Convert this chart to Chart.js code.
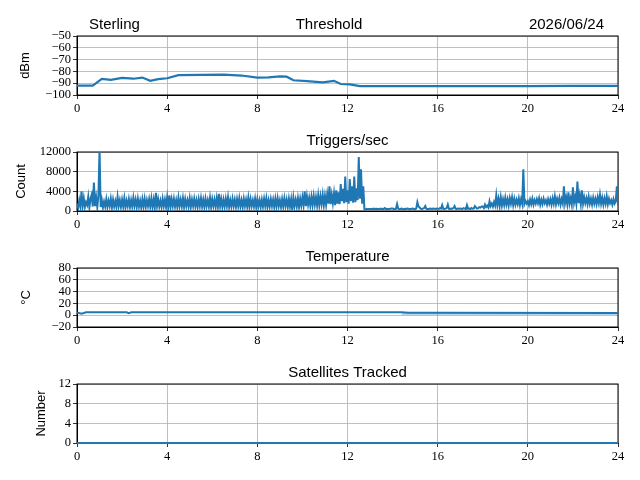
<!DOCTYPE html>
<html>
<head>
<meta charset="utf-8">
<script src="https://cdn.jsdelivr.net/npm/chart.js@4.4.0/dist/chart.umd.min.js"></script>
<style>
  body { margin: 0; background: #fff; width: 640px; height: 480px; position: relative; overflow: hidden; }
  .panel { position: absolute; left: 0; width: 640px; height: 120px; }
</style>
</head>
<body>
<div class="panel" style="top:0px"><canvas id="threshold"></canvas></div>
<div class="panel" style="top:116px"><canvas id="triggers"></canvas></div>
<div class="panel" style="top:232px"><canvas id="temperature"></canvas></div>
<div class="panel" style="top:348px"><canvas id="satellites"></canvas></div>
<script>
// hours of day for the x axis
var hourTicks = [0, 4, 8, 12, 16, 20, 24];

// threshold (dBm)
var thresholdHours = [0, 0.7, 1.1, 1.5, 2.0, 2.5, 2.9, 3.25, 3.6, 4.0, 4.5, 5.5, 6.5, 7.3, 8.0, 8.5, 9.0, 9.3, 9.6, 10.2, 10.9, 11.4, 11.7, 12.1, 12.55, 14, 16, 18, 20, 22, 24];
var thresholdValues = [-92, -92, -86.4, -87.2, -85.5, -86.2, -85.2, -88, -86.5, -85.8, -83.2, -83, -82.8, -83.5, -85.3, -85, -84.3, -84.5, -87.5, -88.3, -89.3, -88, -90.7, -91, -92.4, -92.5, -92.5, -92.5, -92.4, -92.3, -92.3];

// triggers per second, one value every 0.05 h (0.00 .. 24.00), one row per hour
var triggerValues = [
  1500,700,2200,900,4000,1000,2600,800,1800,1200,2900,700,2500,3300,900,5800,1000,2800,800,3100,
  12500,800,2200,700,1900,900,2400,800,2100,1000,2500,700,2300,900,2000,800,2900,1000,2200,800,
  2300,900,2600,700,2100,1000,2400,800,2200,900,2700,1000,2300,800,2500,900,2100,700,2400,900,
  2500,800,2200,1000,2400,900,2600,800,2300,700,3700,1000,2400,900,2100,800,2500,1000,2300,800,
  2800,900,3200,800,2400,1000,2500,900,2200,800,2700,1000,2300,900,2600,800,2400,1000,2200,900,
  2600,800,2300,1000,2500,900,2200,800,2400,1000,2600,900,2300,800,2500,1000,2200,900,2700,800,
  2400,1000,2300,800,2600,900,3500,1000,2400,800,2300,900,2500,1000,2800,800,2200,900,2500,1000,
  2300,800,2400,1000,2600,900,2200,800,2500,1000,2300,900,2700,800,2400,1000,2200,900,2500,800,
  2400,1000,2200,800,2300,900,2500,1000,2600,800,2200,900,2400,1000,2300,800,2500,900,2600,1000,
  2200,800,2400,900,2600,1000,2300,800,2500,900,2400,200,2700,1000,2300,900,2600,800,2500,1100,
  2800,1200,4000,1000,3000,1300,2700,1100,2900,1200,3100,1300,2800,1100,3200,1200,3000,1400,3300,1200,
  3100,1300,3400,1500,5000,1400,3300,1600,3600,1200,4200,1500,3800,1400,5500,2000,4500,1600,7000,1800,
  4200,1500,6500,2000,5000,1700,7000,1800,4600,2200,11000,2500,8500,1500,5000,400,300,450,350,400,
  400,350,450,400,500,350,450,400,350,500,400,450,350,600,400,450,350,400,450,500,
  500,400,350,450,1400,450,350,400,500,400,350,450,400,500,450,350,400,450,500,400,
  400,500,1800,900,700,450,400,500,600,1000,450,400,350,500,450,400,500,450,400,500,
  450,400,600,500,1200,450,400,500,600,1300,450,400,500,450,600,1000,450,400,500,450,
  500,450,400,600,500,400,1200,450,500,400,600,450,500,1000,700,500,600,800,700,900,
  900,600,1300,800,1100,700,2000,1000,1500,900,1800,1100,3200,1200,2500,1000,2800,1100,2400,1200,
  2700,1300,2400,1100,2600,1500,2800,1200,2500,1300,2300,1400,2600,1200,2400,1500,8500,1400,2000,1500,
  2000,1200,2300,1400,2500,1300,2200,1500,2400,1600,2600,1300,2300,1400,2500,1600,2200,1300,2400,1500,
  2400,1300,2600,1500,3000,1400,2500,1600,2700,1300,2400,1500,5000,1600,2800,1400,3800,1500,2600,1300,
  4800,1700,2900,1500,6000,1600,3200,1400,4200,1500,2800,1600,2600,1400,2900,1500,2500,1300,2700,1500,
  2500,1400,2800,1600,3300,1500,2700,1300,2600,1500,3000,1400,2500,1600,2200,1300,2400,1500,2000,5000,
  1200
];

// temperature (deg C)
var tempHours = [0, 0.2, 0.4, 2.2, 2.3, 2.4, 14.4, 14.7, 15, 16, 24];
var tempValues = [4.8, 2.5, 4.8, 4.8, 3.5, 4.8, 4.8, 4.2, 4, 4, 3.8];
var tempLowHours = [14.4, 24];
var tempLowValues = [2, 2];

// satellites tracked
var satHours = [0, 24];
var satValues = [0, 0];

function pairs(xs, ys) {
  return ys.map(function (y, i) { return { x: xs[i], y: y }; });
}
var triggerHours = triggerValues.map(function (v, i) { return i / 20; });

var blue = "#1f77b4";
var tickFont = { family: "'Liberation Serif', serif", size: 12.5 };

// frame under the data, titles and y label on top
var panelText = {
  id: "panelText",
  beforeDatasetsDraw: function (chart) {
    var ctx = chart.ctx, a = chart.chartArea;
    ctx.save();
    ctx.strokeStyle = "#000";
    ctx.lineWidth = 1;
    ctx.strokeRect(a.left, a.top, a.right - a.left, a.bottom - a.top);
    ctx.restore();
  },
  afterDraw: function (chart, args, o) {
    var ctx = chart.ctx, a = chart.chartArea;
    ctx.save();
    ctx.fillStyle = "#000";
    ctx.font = "15px 'Liberation Sans', sans-serif";
    ctx.textBaseline = "alphabetic";
    var ty = a.top - 7;
    if (o.left) { ctx.textAlign = "left"; ctx.fillText(o.left, 89, ty); }
    if (o.right) { ctx.textAlign = "right"; ctx.fillText(o.right, 604, ty); }
    ctx.textAlign = "center";
    ctx.fillText(o.title, o.titleX || (a.left + a.right) / 2, ty);
    ctx.translate(o.yTitleX, (a.top + a.bottom) / 2);
    ctx.rotate(-Math.PI / 2);
    ctx.font = "13px 'Liberation Sans', sans-serif";
    ctx.textBaseline = "middle";
    ctx.fillText(o.yTitle, 0, 0);
    ctx.restore();
  }
};

function minus(v) { return String(v).replace("-", "\u2212"); }

function makeChart(id, datasets, yMin, yMax, yStep, text) {
  new Chart(document.getElementById(id), {
    type: "line",
    data: { datasets: datasets },
    plugins: [panelText],
    options: {
      responsive: true,
      maintainAspectRatio: false,
      animation: false,
      layout: { padding: { top: 36, right: 22, left: 0, bottom: 0 } },
      plugins: { legend: { display: false }, tooltip: { enabled: false }, panelText: text },
      scales: {
        x: {
          type: "linear", min: 0, max: 24,
          afterBuildTicks: function (s) { s.ticks = hourTicks.map(function (v) { return { value: v }; }); },
          afterFit: function (s) { s.height = 25; },
          ticks: { font: tickFont, color: "#000", padding: 2, maxRotation: 0, autoSkip: false, callback: function (v) { return String(v); } },
          grid: { color: "#b0b0b0", lineWidth: 0.8, tickLength: 4, tickColor: "#000" },
          border: { color: "#000", width: 1 }
        },
        y: {
          min: yMin, max: yMax,
          afterFit: function (s) { s.width = 77; },
          ticks: { stepSize: yStep, font: tickFont, color: "#000", padding: 2, autoSkip: false, callback: minus },
          grid: { color: "#b0b0b0", lineWidth: 0.8, tickLength: 4, tickColor: "#000" },
          border: { color: "#000", width: 1 }
        }
      }
    }
  });
}

function line(data, color, width, clip) {
  return { data: data, borderColor: color, borderWidth: width, pointRadius: 0, tension: 0, clip: clip };
}

makeChart("threshold", [line(pairs(thresholdHours, thresholdValues), blue, 2.2)],
  -100, -50, 10, { left: "Sterling", title: "Threshold", titleX: 329, right: "2026/06/24", yTitle: "dBm", yTitleX: 25 });

makeChart("triggers", [line(pairs(triggerHours, triggerValues), blue, 2)],
  0, 12000, 4000, { title: "Triggers/sec", yTitle: "Count", yTitleX: 21 });

makeChart("temperature", [
    line(pairs(tempLowHours, tempLowValues), "rgba(31,119,180,0.3)", 2),
    line(pairs(tempHours, tempValues), blue, 2)
  ], -20, 80, 20, { title: "Temperature", yTitle: "\u00b0C", yTitleX: 26 });

makeChart("satellites", [line(pairs(satHours, satValues), blue, 2, false)],
  0, 12, 4, { title: "Satellites Tracked", yTitle: "Number", yTitleX: 41 });
</script>
</body>
</html>
